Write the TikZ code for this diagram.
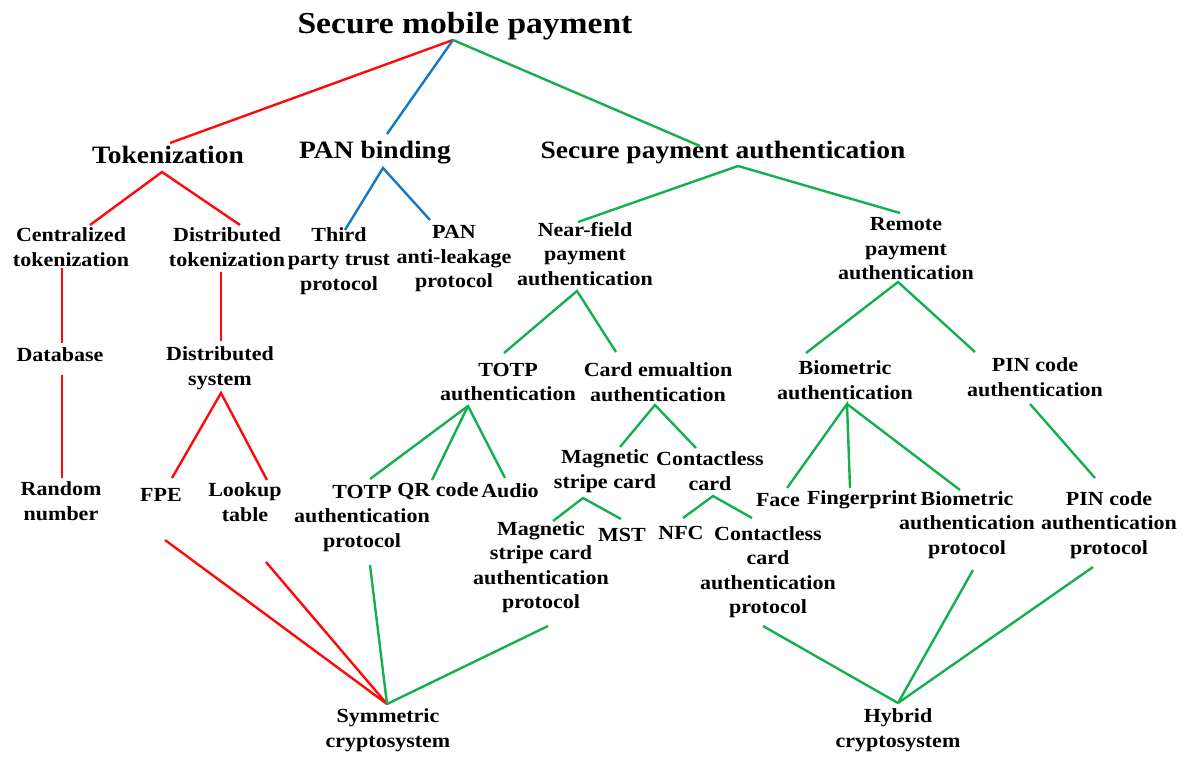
\documentclass[tikz,border=0pt]{standalone}
\usepackage{fontspec}
\setmainfont{Liberation Serif}[FakeStretch=1.1]
\usetikzlibrary{calc}
\definecolor{tred}{RGB}{255,10,10}
\definecolor{tblue}{RGB}{20,120,200}
\definecolor{tgreen}{RGB}{20,176,80}
\tikzset{
  lbl/.style={inner sep=0pt, align=center, font=\fontsize{20}{24.5}\selectfont\bfseries},
  head/.style={inner sep=0pt, align=center, font=\fontsize{25}{28}\selectfont\bfseries},
  top/.style={inner sep=0pt, align=center, font=\fontsize{30.5}{34}\selectfont\bfseries},
  edge/.style={line width=2.4pt},
  redl/.style={edge, tred},
  bluel/.style={edge, tblue},
  greenl/.style={edge, tgreen}
}
\newcommand{\at}[3]{([shift={(#2,#3)}]#1.center)}
\begin{document}
\begin{tikzpicture}[x=1pt,y=-1pt]
\useasboundingbox (0,0) rectangle (1196,756);
% levels 0 and 1
\node[top]  (root) at (465,26)  {Secure mobile payment};
\node[head] (tok)  at (168,155) {Tokenization};
\node[head] (pan)  at (375,153) {PAN binding};
\node[head] (spa)  at (723,153) {Secure payment authentication};
% tokenization branch
\node[lbl] (cent)   at (71,247)  {Centralized\\tokenization};
\node[lbl] (dist)   at (227,247) {Distributed\\tokenization};
\node[lbl] (db)     at (60,355)  {Database};
\node[lbl] (dsys)   at (220,368) {Distributed\\system};
\node[lbl] (rand)   at (61,501)  {Random\\number};
\node[lbl] (fpe)    at (161,495) {FPE};
\node[lbl] (lookup) at (245,502) {Lookup\\table};
% PAN binding branch
\node[lbl] (third)  at (339,261) {Third\\party trust\\protocol};
\node[lbl] (panal)  at (454,259) {PAN\\anti-leakage\\protocol};
% authentication branch
\node[lbl] (near)    at (585,254) {Near-field\\payment\\authentication};
\node[lbl] (remote)  at (906,249) {Remote\\payment\\authentication};
\node[lbl] (totp)    at (508,382) {TOTP\\authentication};
\node[lbl] (card)    at (658,382) {Card emualtion\\authentication};
\node[lbl] (bio)     at (845,380) {Biometric\\authentication};
\node[lbl] (pin)     at (1035,377){PIN code\\authentication};
\node[lbl] (mag)     at (605,471) {Magnetic\\stripe card};
\node[lbl] (contact) at (710,471) {Contactless\\card};
\node[lbl] (totpp)   at (362,518) {TOTP\\authentication\\protocol};
\node[lbl] (qr)      at (438,491) {QR code};
\node[lbl] (audio)   at (510,491) {Audio};
\node[lbl] (magp)    at (541,567) {Magnetic\\stripe card\\authentication\\protocol};
\node[lbl] (mst)     at (622,535) {MST};
\node[lbl] (nfc)     at (681,533) {NFC};
\node[lbl] (contp)   at (768,572) {Contactless\\card\\authentication\\protocol};
\node[lbl] (face)    at (778,500) {Face};
\node[lbl] (finger)  at (862,500) {Fingerprint};
\node[lbl] (biop)    at (967,525) {Biometric\\authentication\\protocol};
\node[lbl] (pinp)    at (1109,525){PIN code\\authentication\\protocol};
% cryptosystems
\node[lbl] (sym) at (388,730) {Symmetric\\cryptosystem};
\node[lbl] (hyb) at (898,730) {Hybrid\\cryptosystem};

% connectors: tokenization (red)
\draw[redl] \at{root}{-12}{14} -- \at{tok}{2}{-12};
\draw[redl] \at{cent}{19}{-22} -- \at{tok}{-6}{17} -- \at{dist}{13}{-22};
\draw[redl] \at{cent}{-9}{21} -- \at{db}{2}{-12};
\draw[redl] \at{db}{2}{20} -- \at{rand}{1}{-23};
\draw[redl] \at{dist}{-6}{25} -- \at{dsys}{1}{-27};
\draw[redl] \at{fpe}{11}{-17} -- \at{dsys}{1}{25} -- \at{lookup}{22}{-22};
\draw[redl] \at{fpe}{4}{45} -- \at{sym}{-1}{-26};
\draw[redl] \at{lookup}{21}{60} -- \at{sym}{-1}{-26};
% connectors: PAN binding (blue)
\draw[bluel] \at{root}{-12}{14} -- \at{pan}{12}{-19};
\draw[bluel] \at{third}{6}{-31} -- \at{pan}{8}{15} -- \at{panal}{-24}{-39};
% connectors: authentication (green)
\draw[greenl] \at{root}{-12}{14} -- \at{spa}{-23}{-7};
\draw[greenl] \at{near}{-7}{-32} -- \at{spa}{15}{13} -- \at{remote}{-6}{-36};
\draw[greenl] \at{totp}{-4}{-29} -- \at{near}{-8}{37} -- \at{card}{-42}{-30};
\draw[greenl] \at{bio}{-39}{-27} -- \at{remote}{-8}{33} -- \at{pin}{-60}{-25};
\draw[greenl] \at{totpp}{8}{-39} -- \at{totp}{-40}{24} -- \at{audio}{-5}{-13};
\draw[greenl] \at{totp}{-40}{24} -- \at{qr}{-6}{-11};
\draw[greenl] \at{mag}{15}{-24} -- \at{card}{-3}{23} -- \at{contact}{-14}{-23};
\draw[greenl] \at{magp}{12}{-46} -- \at{mag}{-22}{27} -- \at{mst}{-1}{-16};
\draw[greenl] \at{nfc}{2}{-15} -- \at{contact}{3}{25} -- \at{contp}{-16}{-54};
\draw[greenl] \at{face}{9}{-12} -- \at{bio}{2}{24} -- \at{finger}{-12}{-12};
\draw[greenl] \at{bio}{2}{24} -- \at{biop}{-7}{-35};
\draw[greenl] \at{pin}{-5}{27} -- \at{pinp}{-14}{-47};
\draw[greenl] \at{totpp}{8}{47} -- \at{sym}{-1}{-26};
\draw[greenl] \at{magp}{7}{59} -- \at{sym}{-1}{-26};
\draw[greenl] \at{contp}{-5}{54} -- \at{hyb}{0}{-27};
\draw[greenl] \at{biop}{6}{45} -- \at{hyb}{0}{-27};
\draw[greenl] \at{pinp}{-16}{42} -- \at{hyb}{0}{-27};
\end{tikzpicture}
\end{document}
